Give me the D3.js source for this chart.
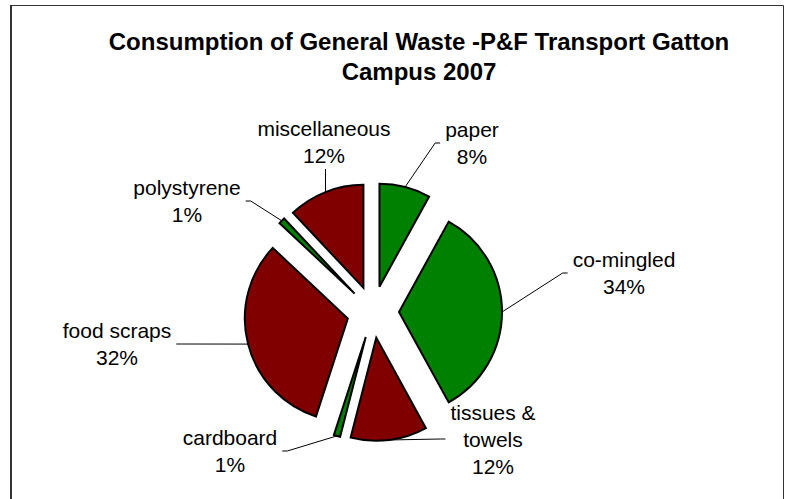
<!DOCTYPE html>
<html>
<head>
<meta charset="utf-8">
<script src="https://cdn.jsdelivr.net/npm/d3@7"></script>
<style>
	html, body { margin: 0; padding: 0; background: #fff; }
	svg { display: block; font-family: "Liberation Sans", Arial, sans-serif; }
</style>
</head>
<body>
<svg id="chart" width="805" height="499"></svg>
<script>
// Data
var categories = ["paper", "co-mingled", "tissues & towels", "cardboard", "food scraps", "polystyrene", "miscellaneous"];
var labelLines = [["paper"], ["co-mingled"], ["tissues &", "towels"], ["cardboard"], ["food scraps"], ["polystyrene"], ["miscellaneous"]];
var shares = [8, 34, 12, 1, 32, 1, 12];
var titleLines = ["Consumption of General Waste -P&F Transport Gatton", "Campus 2007"];

// Style
var sliceColors = ["#008000", "#008000", "#800000", "#008000", "#800000", "#008000", "#800000"];
// label centre, relative to pie centre
var labelOffsets = [[99, -169], [251, -39], [120, 127], [-143, 139], [-256, 32], [-186, -111], [-49, -170]];

var svg = d3.select("#chart"),
	cx = 373,
	cy = 312,
	radius = 103,
	explode = 26,
	fontSize = 21,
	lineHeight = 27;

// Frame
svg.append("path")
	.attr("d", "M 11.5,499 V 5.5 H 783.5 V 499")
	.attr("fill", "none")
	.attr("stroke", "#333")
	.attr("stroke-width", 1);
svg.append("line")
	.attr("x1", 11).attr("x2", 11)
	.attr("y1", 5).attr("y2", 499)
	.attr("stroke", "#333")
	.attr("stroke-width", 2);

// Title
svg.append("text")
	.attr("x", 419)
	.attr("y", 50)
	.attr("text-anchor", "middle")
	.attr("font-size", 24)
	.attr("font-weight", "bold")
	.attr("fill", "#000")
	.selectAll("tspan")
	.data(titleLines)
	.enter().append("tspan")
		.attr("x", 419)
		.attr("dy", function (d, i) { return i ? 30 : 0; })
		.text(function (d) { return d; });

// Pie
var pie = d3.pie().sort(null).value(function (d) { return d; });
var arcs = pie(shares);
var arc = d3.arc().innerRadius(0).outerRadius(radius);
var total = d3.sum(shares);

function dir(a) {
	return [Math.sin(a), -Math.cos(a)];
}

arcs.forEach(function (a, i) {
	var mid = (a.startAngle + a.endAngle) / 2,
		u = dir(mid);
	a.ox = cx + explode * u[0];
	a.oy = cy + explode * u[1];
	a.mid = mid;
	a.index = i;
});

var slicesG = svg.append("g");
slicesG.selectAll("path")
	.data(arcs)
	.enter().append("path")
		.attr("transform", function (d) { return "translate(" + d.ox + "," + d.oy + ")"; })
		.attr("d", arc)
		.attr("fill", function (d, i) { return sliceColors[i]; })
		.attr("stroke", "#000")
		.attr("stroke-width", 2)
		.attr("stroke-linejoin", "miter");

// Labels
var labelsG = svg.append("g"),
	leadersG = svg.insert("g", "g");

arcs.forEach(function (a, i) {
	var lines = labelLines[i].concat([Math.round(shares[i] / total * 100) + "%"]),
		lx = cx + labelOffsets[i][0],
		ly = cy + labelOffsets[i][1],
		top = ly - lines.length * lineHeight / 2;

	var t = labelsG.append("text")
		.attr("text-anchor", "middle")
		.attr("font-size", fontSize)
		.attr("fill", "#000");
	lines.forEach(function (s, k) {
		t.append("tspan")
			.attr("x", lx)
			.attr("y", top + lineHeight * k + lineHeight / 2 + fontSize * 0.36)
			.text(s);
	});

	var bb = t.node().getBBox(),
		pad = 5,
		left = bb.x - pad,
		right = bb.x + bb.width + pad,
		bottom = top + lines.length * lineHeight,
		u = dir(a.mid),
		px = a.ox + radius * u[0],
		py = a.oy + radius * u[1],
		pts;

	if (px >= left && px <= right && py > bottom) {
		pts = [[px, py], [px, bottom]];
	} else if (px < left) {
		pts = [[px, py], [left - 5, ly], [left, ly]];
	} else {
		pts = [[px, py], [right + 5, ly], [right, ly]];
	}

	leadersG.append("path")
		.attr("d", d3.line()(pts))
		.attr("fill", "none")
		.attr("stroke", "#000")
		.attr("stroke-width", 1);
});
</script>
</body>
</html>
